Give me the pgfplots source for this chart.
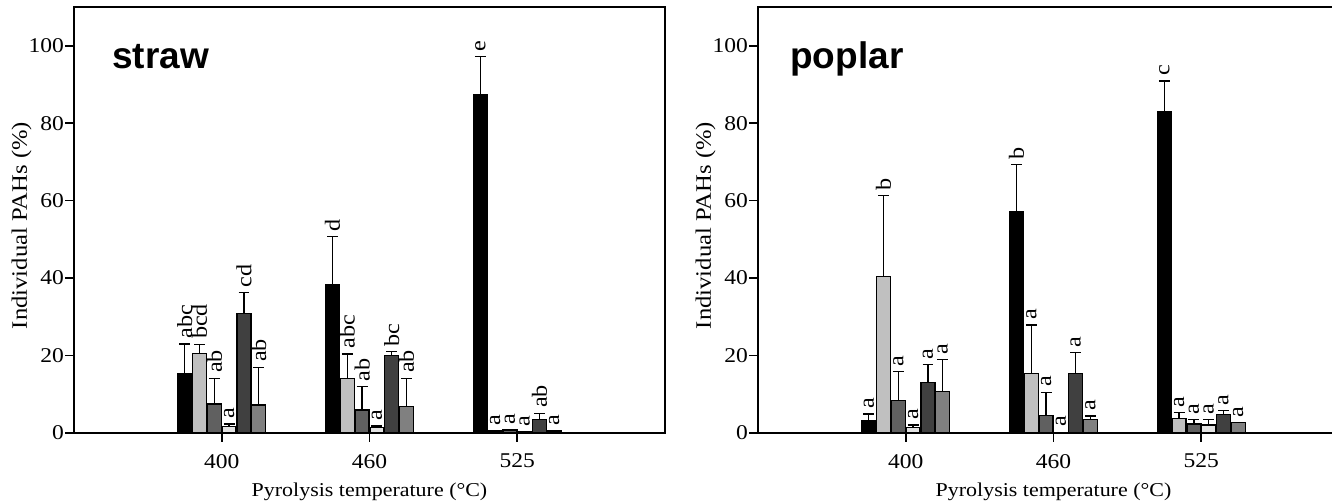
\documentclass[border=0pt]{standalone}
\usepackage{fontspec}
\setmainfont{Liberation Serif}[FakeStretch=1.12]
\newfontfamily\titlefont{Liberation Sans}
\usepackage{pgfplots}
\usepackage{pgfplotstable}
\pgfplotsset{compat=1.18}

\definecolor{cA}{HTML}{000000}
\definecolor{cB}{HTML}{C0C0C0}
\definecolor{cC}{HTML}{606060}
\definecolor{cD}{HTML}{E2E2E2}
\definecolor{cE}{HTML}{404040}
\definecolor{cF}{HTML}{808080}

% straw
\pgfplotstableread{
x a    ea   la  b    eb   lb  c   ec  lc d   ed  ld e    ee  le f   ef  lf
0 15.2 7.8  abc 20.6 2.3  bcd 7.5 6.6 ab 1.6 0.7 a  30.8 5.4 cd 7.2 9.8 ab
1 38.3 12.4 d   14.1 6.3  abc 5.9 6.1 ab 1.5 0.3 a  20.0 1.0 bc 6.8 7.3 ab
2 87.4 9.8  e   0.5  0.0  a   0.8 0.0 a  0.3 0.0 a  3.4  1.7 ab 0.5 0.0 a
}\straw

% poplar
\pgfplotstableread{
x a    ea   la b    eb   lb c   ec  lc d   ed  ld e    ee  le f    ef  lf
0 3.1  1.8  a  40.4 20.9 b  8.4 7.5 a  1.4 0.7 a  13.0 4.6 a  10.7 8.2 a
1 57.2 12.1 b  15.3 12.6 a  4.5 6.0 a  0.2 0.0 a  15.3 5.5 a  3.4  1.0 a
2 82.9 8.0  c  3.8  1.5  a  2.3 1.2 a  2.1 1.3 a  4.7  1.1 a  2.7  0.0 a
}\poplar

\pgfplotsset{
  panel/.style={
    scale only axis, width=295.5pt, height=213pt,
    xmin=-1, xmax=3, ymin=0, ymax=110,
    xtick={0,1,2}, xticklabels={400,460,525},
    ytick={0,20,40,60,80,100},
    tick align=outside, tick pos=left,
    major tick length=4.5pt,
    axis line style={line width=0.8pt},
    every tick/.style={black, line width=0.8pt},
    tick label style={font=\fontsize{10.5}{12}\selectfont},
    yticklabel style={xshift=3pt},
    xticklabel style={yshift=-2.5pt},
    /pgf/number format/assume math mode=true,
    xlabel={Pyrolysis temperature (°C)},
    ylabel={Individual PAHs (\%)},
    xlabel style={at={(axis description cs:0.5,-0.149)}, anchor=base, font=\fontsize{9.8}{12}\selectfont},
    ylabel style={at={(axis description cs:-0.0885,0.487)}, anchor=center, font=\fontsize{11}{13}\selectfont},
  },
  bars/.style={ybar, bar width=7pt, bar shift=0pt, fill=#1, draw=black, line width=0.65pt},
  errs/.style={draw=none, mark=none, forget plot,
    error bars/.cd, y dir=plus, y explicit,
    error bar style={black, line width=0.65pt, solid},
    error mark=-, error mark options={rotate=90, draw=black, line width=0.65pt, mark size=2.7pt, solid}},
  labs/.style={only marks, mark=none, forget plot, point meta=explicit symbolic,
    nodes near coords,
    every node near coord/.append style={rotate=90, anchor=west, inner sep=2.5pt,
      font=\fontsize{10.8}{12}\selectfont}},
}

% one series: #1 table, #2 offset, #3 value col, #4 error col, #5 label col, #6 colour
\newcommand\series[6]{%
  \addplot[bars=#6] table[x expr=\thisrow{x}+#2, y=#3] {#1};
  \addplot[errs] table[x expr=\thisrow{x}+#2, y=#3, y error plus=#4] {#1};
  \addplot[labs] table[x expr=\thisrow{x}+#2, y expr=\thisrow{#3}+\thisrow{#4}, meta=#5] {#1};
}

\begin{document}
\begin{tikzpicture}
\begin{axis}[panel, at={(37pt,34pt)}, anchor=south west]
\series{\straw}{-0.25}{a}{ea}{la}{cA}
\series{\straw}{-0.15}{b}{eb}{lb}{cB}
\series{\straw}{-0.05}{c}{ec}{lc}{cC}
\series{\straw}{0.05}{d}{ed}{ld}{cD}
\series{\straw}{0.15}{e}{ee}{le}{cE}
\series{\straw}{0.25}{f}{ef}{lf}{cF}
\node[anchor=base west, inner sep=0pt, font=\titlefont\bfseries\fontsize{18.5}{20}\selectfont] at (axis description cs:0.0643,0.8545) {straw};
\end{axis}
\begin{axis}[panel, at={(379pt,34pt)}, anchor=south west]
\series{\poplar}{-0.25}{a}{ea}{la}{cA}
\series{\poplar}{-0.15}{b}{eb}{lb}{cB}
\series{\poplar}{-0.05}{c}{ec}{lc}{cC}
\series{\poplar}{0.05}{d}{ed}{ld}{cD}
\series{\poplar}{0.15}{e}{ee}{le}{cE}
\series{\poplar}{0.25}{f}{ef}{lf}{cF}
\node[anchor=base west, inner sep=0pt, font=\titlefont\bfseries\fontsize{18.5}{20}\selectfont] at (axis description cs:0.054,0.8545) {poplar};
\end{axis}
\pgfresetboundingbox
\useasboundingbox (0,0) rectangle (666pt,250.5pt);
\end{tikzpicture}
\end{document}
